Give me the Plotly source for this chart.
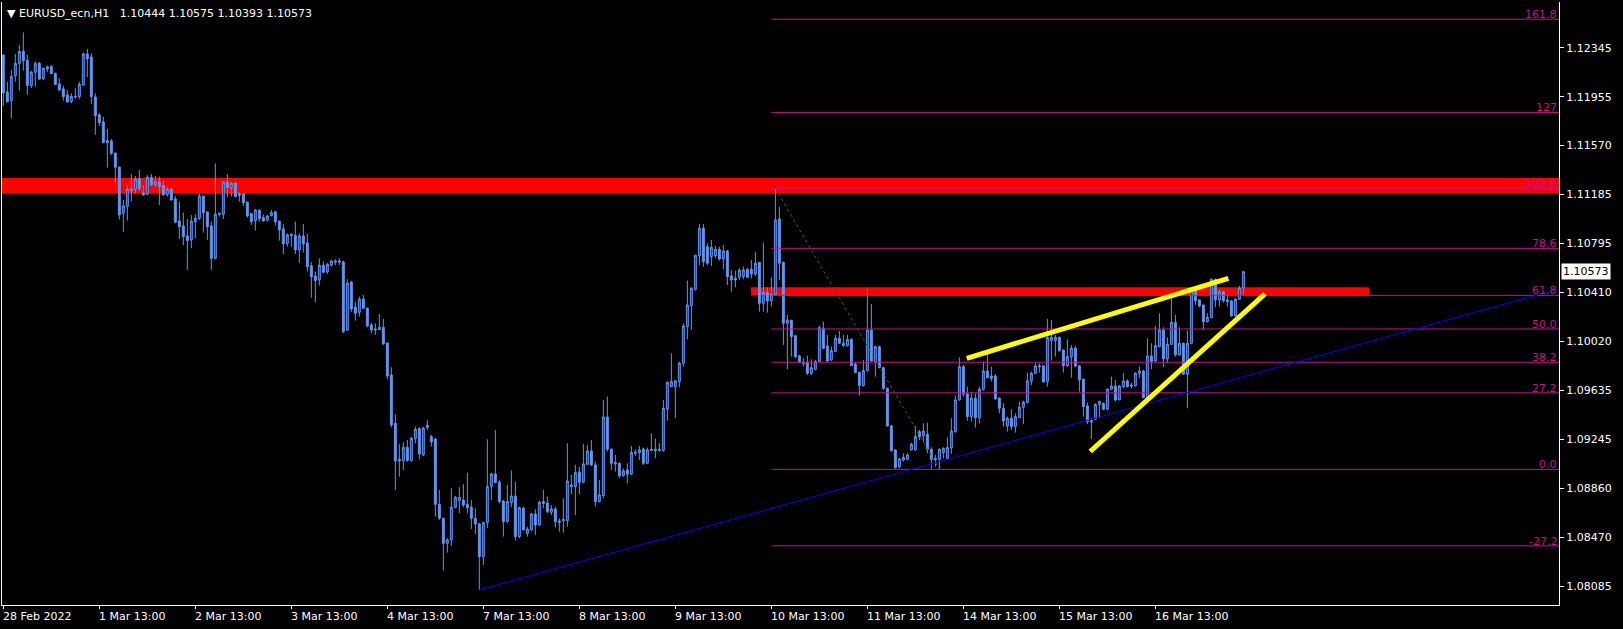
import plotly.graph_objects as go

# ---------------- data ----------------
opens = [1.12287,1.11995,1.11926,1.12124,1.12221,1.12316,1.12245,1.12045,1.12150,1.12221,
1.12100,1.12177,1.12198,1.12142,1.12058,1.12018,1.11971,1.11918,1.11955,1.11958,
1.12050,1.12295,1.12271,1.11955,1.11813,1.11757,1.11610,1.11607,1.11512,1.11401,
1.11035,1.11088,1.11212,1.11225,1.11309,1.11196,1.11185,1.11320,1.11262,1.11283,
1.11254,1.11183,1.11227,1.11148,1.10974,1.10935,1.10856,1.10824,1.10969,1.10995,
1.11172,1.11046,1.10935,1.10679,1.11027,1.11027,1.11283,1.11238,1.11275,1.11191,
1.11188,1.11124,1.11032,1.10977,1.11059,1.11001,1.10980,1.11016,1.11046,1.10974,
1.10911,1.10795,1.10858,1.10861,1.10745,1.10856,1.10800,1.10621,1.10539,1.10508,
1.10624,1.10571,1.10624,1.10648,1.10658,1.10650,1.10112,1.10492,1.10294,1.10252,
1.10358,1.10286,1.10152,1.10120,1.10115,1.10133,1.10010,1.09756,1.09374,1.09089,
1.09079,1.09184,1.09079,1.09253,1.09332,1.09124,1.09340,1.09269,1.09250,1.08733,
1.08623,1.08425,1.08452,1.08710,1.08763,1.08768,1.08733,1.08710,1.08623,1.08578,
1.08319,1.08588,1.08873,1.08973,1.08908,1.08760,1.08596,1.08747,1.08799,1.08478,
1.08702,1.08504,1.08531,1.08657,1.08570,1.08755,1.08744,1.08670,1.08697,1.08602,
1.08604,1.08604,1.08886,1.08873,1.08989,1.08908,1.09050,1.09155,1.09045,1.08755,
1.08802,1.09424,1.09169,1.09063,1.09058,1.08960,1.09005,1.08973,1.09137,1.09142,
1.09171,1.09058,1.09158,1.09168,1.09158,1.09158,1.09487,1.09664,1.09664,1.09704,
1.09849,1.10139,1.10305,1.10434,1.10700,1.10916,1.10771,1.10692,1.10700,1.10750,
1.10674,1.10737,1.10539,1.10521,1.10529,1.10534,1.10592,1.10592,1.10555,1.10647,
1.10323,1.10408,1.10344,1.10394,1.10990,1.10647,1.10165,1.10189,1.10067,1.09907,
1.09857,1.09857,1.09770,1.09801,1.09862,1.10126,1.09986,1.09875,1.09941,1.10046,
1.09988,1.09988,1.10038,1.09843,1.09775,1.09672,1.09791,1.10112,1.09862,1.09980,
1.09814,1.09651,1.09353,1.09163,1.09031,1.09084,1.09089,1.09163,1.09163,1.09308,
1.09274,1.09287,1.09168,1.09097,1.09089,1.09142,1.09097,1.09180,1.09308,1.09559,
1.09822,1.09606,1.09427,1.09572,1.09419,1.09643,1.09788,1.09748,1.09748,1.09572,
1.09493,1.09353,1.09414,1.09348,1.09419,1.09501,1.09538,1.09709,1.09770,1.09822,
1.09828,1.09704,1.10028,1.10028,1.10054,1.09954,1.09830,1.09901,1.09967,1.09828,
1.09722,1.09511,1.09395,1.09406,1.09524,1.09532,1.09485,1.09643,1.09669,1.09559,
1.09664,1.09709,1.09677,1.09672,1.09770,1.09788,1.09577,1.09907,1.09867,1.09980,
1.10112,1.09883,1.09999,1.10173,1.09915,1.10007,1.09762,1.10007,1.10423,1.10350,
1.10310,1.10178,1.10210,1.10513,1.10350,1.10415,1.10350,1.10342,1.10223,1.10355,
1.10444]

highs = [1.12290,1.12076,1.12169,1.12295,1.12366,1.12466,1.12287,1.12161,1.12237,1.12232,
1.12187,1.12203,1.12203,1.12147,1.12103,1.12045,1.12010,1.11984,1.12024,1.12076,
1.12306,1.12335,1.12300,1.11984,1.11826,1.11799,1.11702,1.11623,1.11512,1.11401,
1.11140,1.11259,1.11346,1.11330,1.11378,1.11259,1.11338,1.11346,1.11330,1.11325,
1.11293,1.11241,1.11233,1.11175,1.11127,1.11040,1.10990,1.11022,1.11027,1.11193,
1.11172,1.11046,1.10969,1.11430,1.11040,1.11283,1.11346,1.11283,1.11275,1.11201,
1.11193,1.11124,1.11040,1.11069,1.11067,1.11027,1.11022,1.11061,1.11056,1.10974,
1.10951,1.10877,1.10877,1.10969,1.10877,1.10951,1.10872,1.10648,1.10574,1.10679,
1.10653,1.10640,1.10666,1.10671,1.10679,1.10661,1.10513,1.10500,1.10336,1.10376,
1.10389,1.10286,1.10165,1.10165,1.10239,1.10199,1.10010,1.09817,1.09445,1.09208,
1.09224,1.09242,1.09269,1.09348,1.09343,1.09348,1.09400,1.09282,1.09256,1.08847,
1.08623,1.08465,1.08860,1.08799,1.08868,1.08892,1.08984,1.08768,1.08702,1.08588,
1.08596,1.09248,1.08984,1.09321,1.08926,1.08768,1.08886,1.09000,1.08913,1.08715,
1.08715,1.08557,1.08663,1.08694,1.08763,1.08847,1.08794,1.08728,1.08715,1.08623,
1.08781,1.09216,1.08966,1.09045,1.09031,1.09211,1.09203,1.09242,1.09071,1.08926,
1.09559,1.09585,1.09177,1.09124,1.09063,1.09018,1.09058,1.09195,1.09168,1.09195,
1.09182,1.09182,1.09295,1.09255,1.09216,1.09559,1.09704,1.09928,1.09717,1.09862,
1.10165,1.10502,1.10450,1.10705,1.10951,1.10951,1.10798,1.10824,1.10777,1.10771,
1.10785,1.10745,1.10587,1.10581,1.10600,1.10613,1.10600,1.10666,1.10727,1.10647,
1.10803,1.10450,1.10529,1.11233,1.11088,1.10653,1.10231,1.10191,1.10073,1.09915,
1.09888,1.09909,1.09880,1.09875,1.10147,1.10178,1.10073,1.09980,1.10073,1.10104,
1.10073,1.10073,1.10046,1.09854,1.09783,1.09875,1.10437,1.10318,1.09986,1.09988,
1.09822,1.09656,1.09361,1.09168,1.09097,1.09137,1.09137,1.09221,1.09353,1.09321,
1.09374,1.09379,1.09184,1.09124,1.09176,1.09184,1.09263,1.09414,1.09593,1.09896,
1.09835,1.09664,1.09625,1.09611,1.09664,1.09862,1.09922,1.09822,1.09762,1.09580,
1.09532,1.09427,1.09485,1.09453,1.09546,1.09553,1.09775,1.09783,1.09849,1.09849,
1.09835,1.10199,1.10191,1.10073,1.10060,1.09954,1.10038,1.09994,1.09988,1.09835,
1.09730,1.09538,1.09414,1.09532,1.09553,1.09538,1.09651,1.09743,1.09717,1.09677,
1.09770,1.09722,1.09696,1.09777,1.09822,1.09796,1.10046,1.10007,1.10144,1.10244,
1.10133,1.10054,1.10376,1.10231,1.10133,1.10012,1.10107,1.10434,1.10460,1.10355,
1.10310,1.10244,1.10521,1.10518,1.10429,1.10423,1.10389,1.10350,1.10363,1.10460,
1.10575]

lows = [1.11884,1.11910,1.11784,1.12076,1.12005,1.12163,1.11973,1.12026,1.12037,1.12089,
1.12089,1.12153,1.12137,1.12050,1.12005,1.11926,1.11913,1.11905,1.11937,1.11937,
1.12042,1.12111,1.11897,1.11655,1.11726,1.11589,1.11396,1.11496,1.11277,1.10987,
1.10890,1.10977,1.11127,1.11193,1.11214,1.11175,1.11180,1.11251,1.11246,1.11101,
1.11175,1.11167,1.11135,1.10956,1.10832,1.10784,1.10587,1.10758,1.10837,1.10982,
1.10882,1.10824,1.10587,1.10671,1.11009,1.10990,1.11161,1.11167,1.11161,1.11127,
1.11093,1.11001,1.10943,1.10898,1.10969,1.10969,1.10969,1.11009,1.10937,1.10819,
1.10713,1.10771,1.10771,1.10713,1.10645,1.10724,1.10574,1.10368,1.10329,1.10463,
1.10561,1.10555,1.10613,1.10626,1.10626,1.10086,1.10104,1.10252,1.10186,1.10218,
1.10276,1.10133,1.10086,1.10073,1.10112,1.09994,1.09722,1.09343,1.08847,1.08952,
1.09005,1.09071,1.09071,1.09216,1.09089,1.09116,1.09321,1.09190,1.08636,1.08610,
1.08209,1.08351,1.08404,1.08702,1.08663,1.08710,1.08663,1.08538,1.08499,1.08056,
1.08254,1.08544,1.08768,1.08900,1.08741,1.08478,1.08588,1.08710,1.08446,1.08465,
1.08525,1.08478,1.08523,1.08491,1.08562,1.08702,1.08663,1.08649,1.08552,1.08517,
1.08509,1.08557,1.08815,1.08649,1.08815,1.08900,1.09045,1.09037,1.08715,1.08747,
1.08781,1.09150,1.09005,1.08992,1.08939,1.08952,1.08900,1.08965,1.09116,1.09084,
1.09045,1.09052,1.09158,1.09097,1.09150,1.09150,1.09395,1.09659,1.09414,1.09659,
1.09822,1.10038,1.10112,1.10423,1.10626,1.10613,1.10626,1.10618,1.10679,1.10661,
1.10592,1.10468,1.10415,1.10450,1.10508,1.10513,1.10524,1.10518,1.10539,1.10257,
1.10257,1.10249,1.10297,1.10389,1.10508,1.09994,1.09801,1.09901,1.09888,1.09849,
1.09822,1.09756,1.09756,1.09796,1.09857,1.09962,1.09862,1.09867,1.09936,1.10002,
1.09980,1.09980,1.09828,1.09770,1.09593,1.09664,1.09783,1.09862,1.09743,1.09809,
1.09638,1.09348,1.09150,1.09015,1.09018,1.09071,1.09084,1.09158,1.09158,1.09242,
1.09229,1.09137,1.09015,1.09031,1.09010,1.09097,1.09089,1.09132,1.09300,1.09553,
1.09585,1.09395,1.09387,1.09340,1.09374,1.09632,1.09730,1.09704,1.09559,1.09453,
1.09348,1.09308,1.09321,1.09300,1.09414,1.09369,1.09532,1.09677,1.09764,1.09775,
1.09696,1.09664,1.09870,1.09901,1.09941,1.09775,1.09822,1.09735,1.09817,1.09625,
1.09427,1.09369,1.09250,1.09401,1.09414,1.09480,1.09480,1.09638,1.09546,1.09559,
1.09651,1.09659,1.09651,1.09664,1.09730,1.09572,1.09572,1.09801,1.09862,1.09975,
1.09817,1.09849,1.09994,1.09901,1.09907,1.09756,1.09493,1.09999,1.10310,1.10292,
1.10112,1.10170,1.10205,1.10292,1.10297,1.10328,1.10297,1.10218,1.10218,1.10350,
1.10393]

closes = [1.11989,1.11918,1.12116,1.12221,1.12314,1.12242,1.12045,1.12150,1.12221,1.12097,
1.12182,1.12195,1.12140,1.12053,1.12010,1.11958,1.11915,1.11960,1.11960,1.12055,
1.12295,1.12256,1.11958,1.11807,1.11752,1.11594,1.11594,1.11510,1.11399,1.11022,
1.11093,1.11225,1.11227,1.11306,1.11233,1.11180,1.11320,1.11259,1.11283,1.11246,
1.11180,1.11225,1.11140,1.10964,1.10929,1.10850,1.10819,1.10974,1.10995,1.11172,
1.11040,1.10929,1.10679,1.11027,1.11035,1.11283,1.11238,1.11272,1.11167,1.11177,
1.11119,1.11014,1.10969,1.11061,1.10993,1.10974,1.11014,1.11040,1.10969,1.10903,
1.10793,1.10864,1.10869,1.10745,1.10856,1.10793,1.10613,1.10534,1.10503,1.10624,
1.10568,1.10632,1.10658,1.10658,1.10650,1.10099,1.10481,1.10278,1.10244,1.10355,
1.10284,1.10144,1.10112,1.10112,1.10133,1.10002,1.09749,1.09361,1.09076,1.09076,
1.09184,1.09079,1.09256,1.09327,1.09132,1.09335,1.09358,1.09227,1.08733,1.08623,
1.08425,1.08452,1.08710,1.08789,1.08789,1.08728,1.08707,1.08623,1.08578,1.08319,
1.08588,1.08873,1.08973,1.08905,1.08755,1.08596,1.08755,1.08799,1.08478,1.08707,
1.08531,1.08538,1.08657,1.08570,1.08749,1.08741,1.08676,1.08697,1.08596,1.08591,
1.08612,1.08918,1.08873,1.08984,1.08908,1.09053,1.09155,1.09045,1.08755,1.08807,
1.09424,1.09169,1.09058,1.09053,1.08960,1.08997,1.08973,1.09142,1.09145,1.09163,
1.09058,1.09163,1.09168,1.09158,1.09168,1.09493,1.09698,1.09704,1.09709,1.09849,
1.10144,1.10310,1.10442,1.10703,1.10916,1.10653,1.10640,1.10766,1.10750,1.10674,
1.10737,1.10534,1.10508,1.10508,1.10587,1.10587,1.10529,1.10555,1.10640,1.10323,
1.10408,1.10342,1.10394,1.10982,1.10640,1.10165,1.10191,1.10060,1.09901,1.09857,
1.09849,1.09770,1.09814,1.09862,1.10131,1.09967,1.09867,1.09949,1.10046,1.10007,
1.10007,1.10038,1.09830,1.09775,1.09672,1.09791,1.10112,1.09867,1.09980,1.09814,
1.09651,1.09353,1.09158,1.09023,1.09092,1.09105,1.09124,1.09208,1.09269,1.09269,
1.09313,1.09168,1.09089,1.09089,1.09168,1.09176,1.09182,1.09313,1.09559,1.09822,
1.09606,1.09427,1.09572,1.09419,1.09643,1.09788,1.09735,1.09730,1.09567,1.09493,
1.09392,1.09414,1.09348,1.09427,1.09501,1.09540,1.09709,1.09770,1.09828,1.09828,
1.09701,1.10052,1.10052,1.10054,1.09949,1.09830,1.09901,1.09967,1.09828,1.09717,
1.09506,1.09387,1.09387,1.09524,1.09546,1.09485,1.09643,1.09669,1.09559,1.09669,
1.09709,1.09664,1.09669,1.09770,1.09788,1.09577,1.09907,1.09862,1.09988,1.10112,
1.09883,1.09999,1.10173,1.09915,1.10007,1.09762,1.10007,1.10423,1.10344,1.10302,
1.10178,1.10212,1.10513,1.10350,1.10415,1.10344,1.10336,1.10223,1.10355,1.10442,
1.10573]

# time axis: one bar per hour; labelled bars
tick_bars = [0, 24, 48, 72, 96, 120, 144, 168, 192, 216, 240, 264, 288]
tick_text = ["28 Feb 2022", "1 Mar 13:00", "2 Mar 13:00", "3 Mar 13:00", "4 Mar 13:00",
             "7 Mar 13:00", "8 Mar 13:00", "9 Mar 13:00", "10 Mar 13:00", "11 Mar 13:00",
             "14 Mar 13:00", "15 Mar 13:00", "16 Mar 13:00"]

price_ticks = [1.12345, 1.11955, 1.11570, 1.11185, 1.10795, 1.10410,
               1.10020, 1.09635, 1.09245, 1.08860, 1.08470, 1.08085]
price_tick_text = ["1.12345", "1.11955", "1.11570", "1.11185", "1.10795", "1.10410",
                   "1.10020", "1.09635", "1.09245", "1.08860", "1.08470", "1.08085"]

last_price = 1.10573
last_price_text = "1.10573"
title_text = "EURUSD_ecn,H1\u00a0\u00a0\u00a01.10444 1.10575 1.10393 1.10573"

# Fibonacci levels as drawn (price of each level line)
fib_start_bar = 192
fib_levels = [1.08405, 1.09010, 1.09615, 1.09857, 1.10120, 1.10386, 1.10758, 1.11233, 1.11833, 1.12570]
fib_labels = ["-27.2", "0.0", "27.2", "38.2", "50.0", "61.8", "78.6", "100.0", "127", "161.8"]

# support / resistance zones
zone1 = [1.11190, 1.11314]
zone2 = [1.10384, 1.10450]
zone2_bars = [186.9, 341.4]

# trend lines (bar, price)
blue_trend = [(119, 1.08056), (388.9, 1.10437)]
fib_diag = [(193, 1.11233), (234, 1.09010)]
yellow_upper = [(240.85, 1.09888), (306.25, 1.10521)]
yellow_lower = [(271.7, 1.09151), (315.4, 1.10397)]

# ---------------- layout geometry ----------------
W, H = 1623, 629
PL, PR, PT, PB = 2, 1559, 2, 605
x_range = [-0.33, 388.9]
y_range = [1.07937, 1.12706]

def paper_x(px):
    return (px - PL) / (PR - PL)

def paper_y(py):
    return (PB - py) / (PB - PT)

FONT = "DejaVu Sans"
CORN = "#6495ED"
BULL_FILL = "#1034D0"
FIB = "#C71585"

fig = go.Figure()
fig.add_trace(go.Candlestick(
    x=list(range(len(opens))), open=opens, high=highs, low=lows, close=closes,
    increasing=dict(line=dict(color=CORN, width=1), fillcolor=BULL_FILL),
    decreasing=dict(line=dict(color=CORN, width=1), fillcolor=CORN),
    whiskerwidth=0, hoverinfo="skip", showlegend=False,
))

shapes = []
shapes.append(dict(type="rect", xref="paper", yref="y", x0=0, x1=1, y0=zone1[0], y1=zone1[1],
                   fillcolor="#FF0000", line=dict(width=0), layer="below"))
shapes.append(dict(type="rect", xref="x", yref="y", x0=zone2_bars[0], x1=zone2_bars[1],
                   y0=zone2[0], y1=zone2[1], fillcolor="#FF0000", line=dict(width=0), layer="below"))
annotations = []
for lvl, lab in zip(fib_levels, fib_labels):
    shapes.append(dict(type="line", xref="x", yref="y", x0=fib_start_bar, x1=x_range[1],
                       y0=lvl, y1=lvl, line=dict(color=FIB, width=1), layer="above"))
    annotations.append(dict(xref="paper", yref="y", x=paper_x(1558), y=lvl, text=lab,
                            showarrow=False, xanchor="right", yanchor="bottom", yshift=-3,
                            font=dict(family=FONT, size=11, color=FIB), borderpad=0))
shapes.append(dict(type="line", xref="x", yref="y", x0=fib_diag[0][0], y0=fib_diag[0][1],
                   x1=fib_diag[1][0], y1=fib_diag[1][1], line=dict(color="#3E5F55", width=1, dash="dot")))
shapes.append(dict(type="line", xref="x", yref="y", x0=blue_trend[0][0], y0=blue_trend[0][1],
                   x1=blue_trend[1][0], y1=blue_trend[1][1], line=dict(color="#0000FF", width=1)))
for seg in (yellow_upper, yellow_lower):
    shapes.append(dict(type="line", xref="x", yref="y", x0=seg[0][0], y0=seg[0][1],
                       x1=seg[1][0], y1=seg[1][1], line=dict(color="#FFFF00", width=5)))

annotations.append(dict(xref="paper", yref="paper", x=paper_x(5), y=paper_y(13), text="\u25BC " + title_text,
                        showarrow=False, xanchor="left", yanchor="middle",
                        font=dict(family=FONT, size=11, color="white")))
for b, t in zip(tick_bars, tick_text):
    annotations.append(dict(xref="x", yref="paper", x=b, y=paper_y(616), text=t, showarrow=False,
                            xanchor="left", yanchor="middle", xshift=-2,
                            font=dict(family=FONT, size=11, color="white")))
annotations.append(dict(xref="paper", yref="y", x=paper_x(1561), y=last_price, text=last_price_text,
                        showarrow=False, xanchor="left", yanchor="middle", bgcolor="white",
                        borderpad=1, font=dict(family=FONT, size=11, color="black")))

fig.update_layout(
    width=W, height=H, margin=dict(l=PL, r=W - PR, t=PT, b=H - PB, pad=0),
    paper_bgcolor="black", plot_bgcolor="black",
    shapes=shapes, annotations=annotations, hovermode=False, showlegend=False,
    xaxis=dict(range=x_range, showgrid=False, zeroline=False, rangeslider=dict(visible=False),
               showline=True, linecolor="white", linewidth=1, tickmode="array", tickvals=tick_bars,
               ticks="outside", ticklen=3, tickcolor="white", showticklabels=False),
    yaxis=dict(range=y_range, side="right", showgrid=False, zeroline=False, showline=True,
               mirror=True, linecolor="white", linewidth=1, tickmode="array",
               tickvals=price_ticks, ticktext=price_tick_text, ticks="outside", ticklen=4,
               tickcolor="white", tickfont=dict(family=FONT, size=11, color="white")),
)

fig.write_html("out.html", config={"displayModeBar": False},
               post_script="document.body.style.margin='0';")
